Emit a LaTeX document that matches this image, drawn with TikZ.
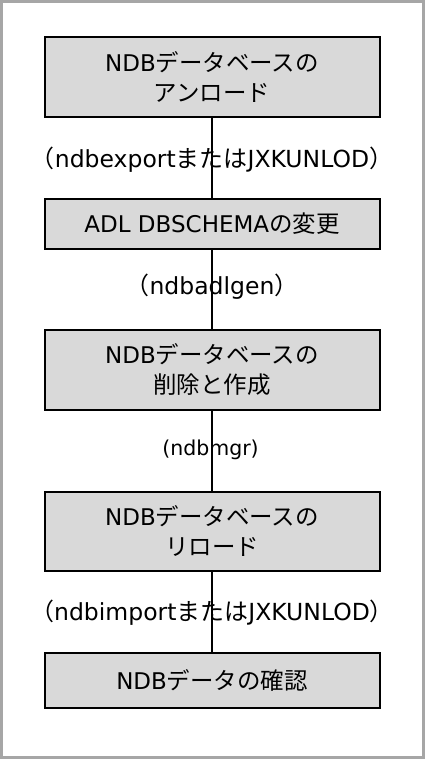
\documentclass[tikz,border=0pt]{standalone}
\usepackage{fontspec}
\setmainfont{DejaVu Sans}
\newfontfamily\jp[Scale=1.02]{Noto Sans CJK JP}
\begin{document}
\begin{tikzpicture}[x=1pt,y=-1pt,
  stepbox/.style={draw=black,line width=2pt,fill=black!15,minimum width=335pt,inner sep=0pt,align=center,font=\fontsize{23}{30}\selectfont},
  lbl/.style={inner sep=0pt,font=\fontsize{23.5}{28}\selectfont},
  lbls/.style={inner sep=0pt,font=\fontsize{20.5}{24}\selectfont},
  conn/.style={line width=2pt}]
\useasboundingbox (0,0) rectangle (425,759);
\draw[line width=3pt,draw=black!35] (1.5,1.5) rectangle (423.5,757.5);
\node[stepbox,minimum height=80pt] (b1) at (212,77.3) {NDB{\jp データベースの}\\{\jp アンロード}};
\node[stepbox,minimum height=49.5pt] (b2) at (212,224) {ADL DBSCHEMA{\jp の変更}};
\node[stepbox,minimum height=80pt] (b3) at (212,370) {NDB{\jp データベースの}\\{\jp 削除と作成}};
\node[stepbox,minimum height=79pt] (b4) at (212,531) {NDB{\jp データベースの}\\{\jp リロード}};
\node[stepbox,minimum height=55pt] (b5) at (212,680.5) {NDB{\jp データの確認}};
\draw[conn] (b1) -- (b2);
\draw[conn] (b2) -- (b3);
\draw[conn] (b3) -- (b4);
\draw[conn] (b4) -- (b5);
\node[lbl] (l1) at (212,160) {{\jp （}ndbexport{\jp または}JXKUNLOD{\jp ）}};
\node[lbl] (l2) at (212,287) {{\jp （}ndbadlgen{\jp ）}};
\node[lbls] (l3) at (210.5,450) {(ndbmgr)};
\node[lbl] (l4) at (212,613) {{\jp （}ndbimport{\jp または}JXKUNLOD{\jp ）}};
\end{tikzpicture}
\end{document}
